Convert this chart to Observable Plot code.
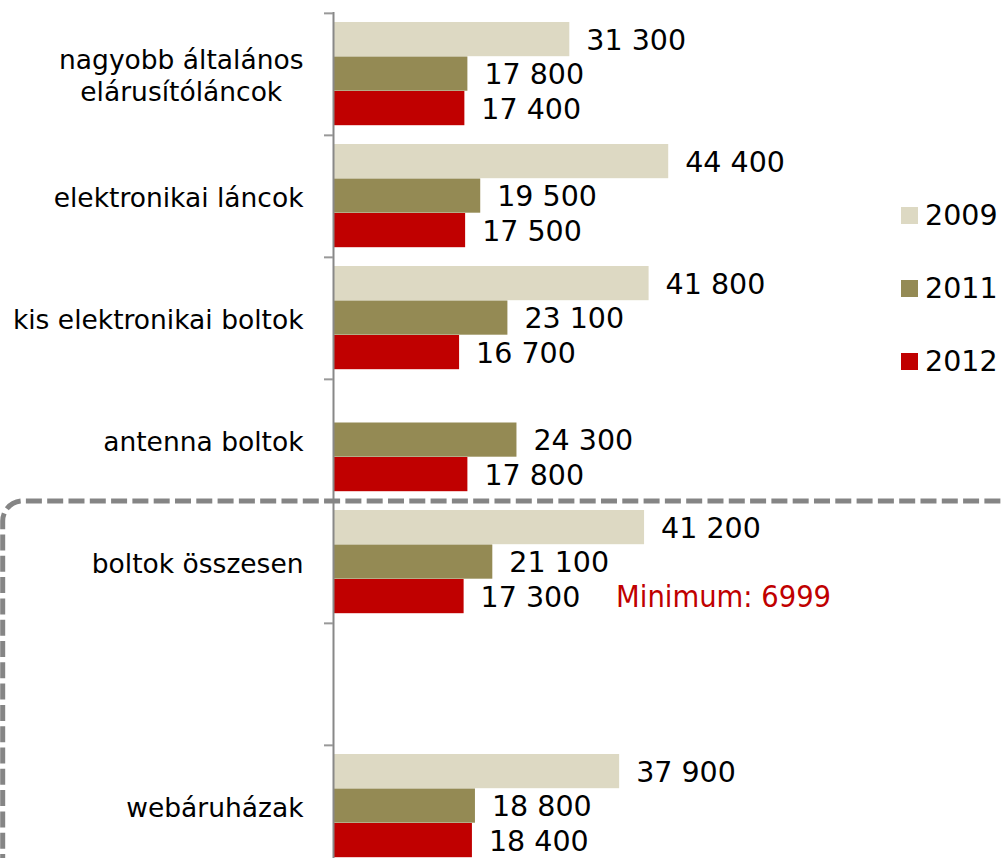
<!DOCTYPE html>
<html><head><meta charset="utf-8">
<script src="https://cdn.jsdelivr.net/npm/d3@7"></script>
<script src="https://cdn.jsdelivr.net/npm/@observablehq/plot@0.6"></script>
<style>
html,body{margin:0;padding:0;background:#fff;overflow:hidden;}
#wrap{position:relative;width:1002px;height:858px;}
.legend{position:absolute;left:901px;top:0;font-family:"DejaVu Sans";font-size:28.5px;color:#000;}
.item{position:absolute;left:0;display:flex;align-items:center;white-space:nowrap;height:30px;}
.sw{width:17px;height:17px;margin-right:7px;}
</style></head><body><div id="wrap"></div>
<script>
const categories = ["nagyobb általános\nelárusítóláncok", "elektronikai láncok", "kis elektronikai boltok", "antenna boltok", "boltok összesen", " ", "webáruházak"];
const series = ["2009", "2011", "2012"];
const colors = ["#DDD9C3", "#948A54", "#C00000"];
const values2009 = [31300, 44400, 41800, null, 41200, null, 37900];
const values2011 = [17800, 19500, 23100, 24300, 21100, null, 18800];
const values2012 = [17400, 17500, 16700, 17800, 17300, null, 18400];
const annotations = [{category: "boltok összesen", series: "2012", text: "Minimum: 6999"}];

const seriesValues = [values2009, values2011, values2012];
const rows = [];
categories.forEach((c, i) => series.forEach((s, j) => {
  const v = seriesValues[j][i];
  if (v != null) rows.push({category: c, series: s, value: v});
}));
const annotRows = annotations.map(a => ({...a, value: rows.find(r => r.category === a.category && r.series === a.series).value}));

const plotTop = 12, step = 122.3, barH = 34.5, barTop = 9;
const fmt = v => d3.format(",")(v).replace(/,/g, " ");

const plot = Plot.plot({
  width: 1002, height: 858,
  marginLeft: 333, marginRight: 0, marginTop: 12, marginBottom: 0,
  style: {fontFamily: "DejaVu Sans", fontSize: "26px", background: "#fff", color: "#000"},
  x: {domain: [0, 88000], range: [333, 333 + 88000 * 0.00755], axis: null},
  y: {domain: categories, range: [plotTop, plotTop + categories.length * step], padding: 0, axis: null, label: null},
  marks: [
    ...series.map((s, j) => Plot.barX(rows.filter(r => r.series === s), {
      y: "category", x: "value", fill: colors[j],
      insetTop: barTop + j * barH, insetBottom: step - barTop - (j + 1) * barH
    })),
    Plot.ruleX([0], {stroke: "#888", strokeWidth: 2}),
    ...series.map((s, j) => Plot.text(rows.filter(r => r.series === s), {
      y: "category", x: "value", text: d => fmt(d.value),
      dx: 16.5, dy: barTop + j * barH + barH / 2 - step / 2 + 1,
      textAnchor: "start", fontSize: 28.5, fill: "#000"
    })),
    Plot.text(annotRows, {
      y: "category", x: "value", text: "text",
      dx: 152, dy: barTop + 2 * barH + barH / 2 - step / 2 + 1,
      textAnchor: "start", fontSize: 30.5, fill: "#C00000", fontFamily: "DejaVu Sans Condensed"
    }),
    Plot.axisY({tickSize: 0, tickPadding: 30, fontSize: 26.5, lineHeight: 1.23, tickFormat: d => d, fill: "#000", label: null}),
    Plot.axisY({tickSize: 9, tickFormat: () => "", dy: -step / 2, stroke: "#999", strokeWidth: 2, label: null})
  ]
});
const wrap = document.getElementById("wrap");
wrap.appendChild(plot);

// center multi-line category labels
d3.select(plot).selectAll('g[aria-label="y-axis tick label"] text').each(function() {
  const ts = this.querySelectorAll("tspan");
  if (ts.length > 1) {
    let w = 0;
    ts.forEach(t => { w = Math.max(w, t.getComputedTextLength()); });
    this.setAttribute("text-anchor", "middle");
    ts.forEach(t => t.setAttribute("x", -w / 2));
  }
});

// dashed rounded box around the last section
const ys = plot.scale("y");
const yTop = ys.apply("boltok összesen");
const rad = 20, xl = 2.7;
d3.select(plot).append("path")
  .attr("d", `M${xl},${870} V${yTop + rad} A${rad},${rad} 0 0 1 ${xl + rad},${yTop} H1010`)
  .attr("fill", "none").attr("stroke", "#858585").attr("stroke-width", 5)
  .attr("stroke-dasharray", "16 5.3");

// legend
const legend = document.createElement("div");
legend.className = "legend";
series.forEach((s, j) => {
  const it = document.createElement("div");
  it.className = "item";
  it.style.top = (215 + j * 73 - 15) + "px";
  it.innerHTML = `<div class="sw" style="background:${colors[j]}"></div><span>${s}</span>`;
  legend.appendChild(it);
});
wrap.appendChild(legend);
</script></body></html>
